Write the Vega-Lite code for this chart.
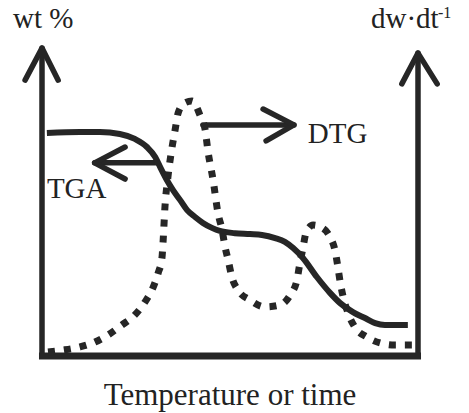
{
  "$schema": "https://vega.github.io/schema/vega-lite/v6.json",
  "width": 376,
  "height": 311,
  "padding": {"left": 42, "top": 45, "right": 51, "bottom": 57},
  "autosize": {"type": "none"},
  "background": "white",
  "config": {"view": {"stroke": null}},
  "datasets": {
    "tga": [
      {"t": 1.3, "v": 71.7}, {"t": 10.1, "v": 72.0}, {"t": 15.4, "v": 72.0}, {"t": 20.7, "v": 71.4},
      {"t": 24.7, "v": 69.8}, {"t": 27.9, "v": 67.2}, {"t": 30.1, "v": 64.0}, {"t": 31.4, "v": 60.8},
      {"t": 33.2, "v": 56.6}, {"t": 34.8, "v": 53.4}, {"t": 36.7, "v": 50.2}, {"t": 38.6, "v": 46.9},
      {"t": 40.7, "v": 44.7}, {"t": 42.8, "v": 42.8}, {"t": 45.2, "v": 41.2}, {"t": 47.3, "v": 40.2},
      {"t": 51.3, "v": 39.5}, {"t": 55.3, "v": 39.2}, {"t": 58.5, "v": 38.9}, {"t": 62.0, "v": 37.9},
      {"t": 64.6, "v": 36.7}, {"t": 66.8, "v": 34.7}, {"t": 69.4, "v": 31.5}, {"t": 73.1, "v": 25.4},
      {"t": 76.6, "v": 20.3}, {"t": 79.3, "v": 17.0}, {"t": 82.7, "v": 14.1}, {"t": 85.9, "v": 12.2},
      {"t": 88.6, "v": 10.6}, {"t": 91.2, "v": 10.0}, {"t": 97.3, "v": 10.0}
    ],
    "dtg": [
      {"t": 1.6, "v": 1.3}, {"t": 5.6, "v": 1.9}, {"t": 10.1, "v": 2.9}, {"t": 14.1, "v": 4.5},
      {"t": 17.6, "v": 6.8}, {"t": 21.3, "v": 10.0}, {"t": 24.7, "v": 13.2}, {"t": 27.4, "v": 17.4},
      {"t": 29.5, "v": 21.9}, {"t": 30.9, "v": 26.7}, {"t": 31.9, "v": 31.5}, {"t": 32.2, "v": 36.7},
      {"t": 32.7, "v": 47.9}, {"t": 33.5, "v": 57.6}, {"t": 34.6, "v": 67.2}, {"t": 35.4, "v": 72.7},
      {"t": 36.2, "v": 78.1}, {"t": 38.0, "v": 81.4}, {"t": 39.9, "v": 82.0}, {"t": 42.0, "v": 77.5},
      {"t": 43.4, "v": 72.7}, {"t": 44.1, "v": 66.2}, {"t": 45.5, "v": 56.6}, {"t": 46.8, "v": 46.0},
      {"t": 47.9, "v": 40.5}, {"t": 48.7, "v": 35.0}, {"t": 49.5, "v": 30.9}, {"t": 50.5, "v": 25.4},
      {"t": 52.1, "v": 21.2}, {"t": 55.3, "v": 18.0}, {"t": 59.3, "v": 15.8}, {"t": 63.3, "v": 16.4},
      {"t": 66.0, "v": 19.6}, {"t": 67.8, "v": 24.4}, {"t": 68.6, "v": 29.9}, {"t": 69.4, "v": 34.7},
      {"t": 70.2, "v": 39.5}, {"t": 72.1, "v": 42.1}, {"t": 74.5, "v": 41.2}, {"t": 76.6, "v": 38.3},
      {"t": 77.9, "v": 34.1}, {"t": 78.7, "v": 28.6}, {"t": 79.3, "v": 23.8}, {"t": 80.1, "v": 19.0},
      {"t": 81.4, "v": 13.8}, {"t": 83.2, "v": 9.3}, {"t": 86.4, "v": 6.1}, {"t": 89.9, "v": 4.2},
      {"t": 93.9, "v": 3.5}, {"t": 98.4, "v": 3.5}
    ],
    "frame": [
      {"part": "left axis", "t": 0, "v": 0}, {"part": "left axis", "t": 0, "v": 99},
      {"part": "right axis", "t": 100, "v": 0}, {"part": "right axis", "t": 100, "v": 97.4},
      {"part": "left head", "t": -4.5, "v": 88.7}, {"part": "left head", "t": 0, "v": 99}, {"part": "left head", "t": 4.3, "v": 88.7},
      {"part": "right head", "t": 95.7, "v": 87.5}, {"part": "right head", "t": 100, "v": 97.4}, {"part": "right head", "t": 105.1, "v": 87.5},
      {"part": "DTG shaft", "t": 42.8, "v": 74.3}, {"part": "DTG shaft", "t": 67.0, "v": 74.3},
      {"part": "DTG head", "t": 58.8, "v": 79.4}, {"part": "DTG head", "t": 67.0, "v": 74.3}, {"part": "DTG head", "t": 59.6, "v": 69.2},
      {"part": "TGA shaft", "t": 30.6, "v": 62.1}, {"part": "TGA shaft", "t": 14.0, "v": 62.1},
      {"part": "TGA head", "t": 22.1, "v": 67.2}, {"part": "TGA head", "t": 14.0, "v": 62.1}, {"part": "TGA head", "t": 22.1, "v": 56.9}
    ],
    "base": [
      {"t": -0.8, "v": 0}, {"t": 100.8, "v": 0}
    ],
    "labels": [
      {"label": "wt %", "t": -7.7, "v": 105.5},
      {"label": "dw·dt", "t": 87.5, "v": 105.5},
      {"label": "DTG", "t": 70.7, "v": 68.5},
      {"label": "TGA", "t": 1.3, "v": 50.8}
    ],
    "sup": [
      {"label": "-1", "t": 105.3, "v": 108.6}
    ],
    "xtitle": [
      {"label": "Temperature or time", "t": 50, "v": -15.8}
    ]
  },
  "layer": [
    {
      "data": {"name": "frame"},
      "mark": {"type": "line", "color": "#262626", "strokeWidth": 5.5, "strokeCap": "round", "strokeJoin": "round"},
      "encoding": {
        "x": {"field": "t", "type": "quantitative", "scale": {"domain": [0, 100], "nice": false, "zero": false}, "axis": null},
        "y": {"field": "v", "type": "quantitative", "scale": {"domain": [0, 100], "nice": false, "zero": false}, "axis": null},
        "detail": {"field": "part"},
        "order": {"value": null}
      }
    },
    {
      "data": {"name": "base"},
      "mark": {"type": "line", "color": "#262626", "strokeWidth": 7, "strokeCap": "butt"},
      "encoding": {
        "x": {"field": "t", "type": "quantitative"},
        "y": {"field": "v", "type": "quantitative"}
      }
    },
    {
      "data": {"name": "tga"},
      "mark": {"type": "line", "color": "#262626", "strokeWidth": 6, "interpolate": "monotone", "strokeCap": "butt"},
      "encoding": {
        "x": {"field": "t", "type": "quantitative"},
        "y": {"field": "v", "type": "quantitative"},
        "order": {"value": null}
      }
    },
    {
      "data": {"name": "dtg"},
      "mark": {"type": "line", "color": "#262626", "strokeWidth": 7, "interpolate": "monotone", "strokeDash": [7, 9], "strokeCap": "butt"},
      "encoding": {
        "x": {"field": "t", "type": "quantitative"},
        "y": {"field": "v", "type": "quantitative"},
        "order": {"value": null}
      }
    },
    {
      "data": {"name": "labels"},
      "mark": {"type": "text", "font": "Liberation Serif", "fontSize": 29, "align": "left", "baseline": "alphabetic", "color": "#222222"},
      "encoding": {
        "x": {"field": "t", "type": "quantitative"},
        "y": {"field": "v", "type": "quantitative"},
        "text": {"field": "label"}
      }
    },
    {
      "data": {"name": "sup"},
      "mark": {"type": "text", "font": "Liberation Serif", "fontSize": 16, "align": "left", "baseline": "alphabetic", "color": "#222222"},
      "encoding": {
        "x": {"field": "t", "type": "quantitative"},
        "y": {"field": "v", "type": "quantitative"},
        "text": {"field": "label"}
      }
    },
    {
      "data": {"name": "xtitle"},
      "mark": {"type": "text", "font": "Liberation Serif", "fontSize": 31, "align": "center", "baseline": "alphabetic", "color": "#222222"},
      "encoding": {
        "x": {"field": "t", "type": "quantitative"},
        "y": {"field": "v", "type": "quantitative"},
        "text": {"field": "label"}
      }
    }
  ]
}
